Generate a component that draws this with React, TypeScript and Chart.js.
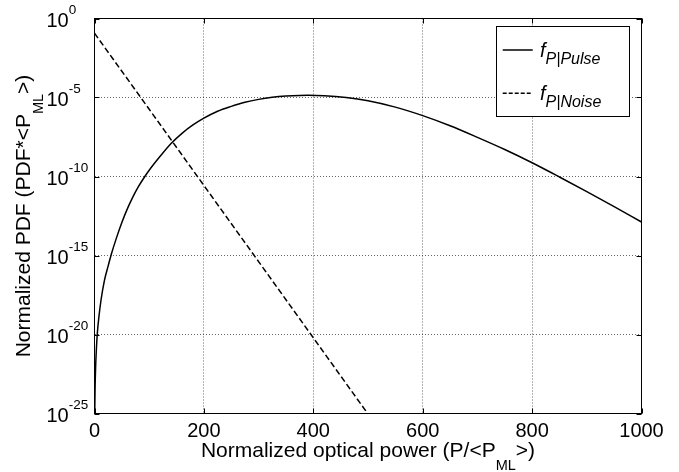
import React, { useEffect, useRef } from "react";
import { Chart, registerables } from "chart.js";

Chart.register(...registerables);

// ---- data ----
const pulseP = [
  0.2, 0.4, 1, 2, 3.5, 5, 8, 12, 18, 25, 31, 40, 50, 60, 70, 80, 92, 100, 120,
  140, 160, 180, 200, 225, 250, 275, 300, 325, 350, 375, 390, 420, 460, 500,
  550, 600, 650, 700, 750, 800, 850, 900, 950, 1000,
];
const pulsePDF = [
  1.6e-26, 1.0e-25, 3.2e-24, 7.9e-23, 1.26e-21, 1.0e-20, 1.26e-19, 1.58e-18,
  2.5e-17, 2.2e-16, 1.29e-15, 1.26e-14, 1.23e-13, 8.9e-13, 5.0e-12, 2.2e-11,
  1.0e-10, 2.5e-10, 1.9e-9, 1.23e-8, 5.4e-8, 1.82e-7, 4.9e-7, 1.35e-6, 2.75e-6,
  5.0e-6, 7.6e-6, 1.02e-5, 1.23e-5, 1.36e-5, 1.38e-5, 1.3e-5, 1.0e-5, 6.2e-6,
  2.45e-6, 7.1e-7, 1.62e-7, 3.0e-8, 5.1e-9, 7.4e-10, 9.3e-11, 1.1e-11,
  1.23e-12, 1.32e-13,
];
const noiseP = [0, 100, 200, 300, 400, 500];
const noisePDF = [1.17e-1, 1.8e-6, 2.7e-11, 4.1e-16, 6.2e-21, 9.3e-26];

const xTicks = [0, 200, 400, 600, 800, 1000];
const yTickExponents = [-25, -20, -15, -10, -5, 0];
const xTitleParts = ["Normalized optical power (P/<P", "ML", ">)"];
const yTitleParts = ["Normalized PDF (PDF*<P", "ML", ">)"];
const legendItems = [
  { base: "f", sub: "P|Pulse", dash: [] as number[] },
  { base: "f", sub: "P|Noise", dash: [4, 2] },
];

const FONT = '"Liberation Sans", Arial, Helvetica, sans-serif';

function drawSubText(
  ctx: CanvasRenderingContext2D,
  parts: string[],
  cx: number,
  baseline: number
) {
  const big = `21px ${FONT}`;
  const small = `14.5px ${FONT}`;
  ctx.font = big;
  const w1 = ctx.measureText(parts[0]).width;
  const w3 = ctx.measureText(parts[2]).width;
  ctx.font = small;
  const w2 = ctx.measureText(parts[1]).width;
  let x = cx - (w1 + w2 + w3) / 2;
  ctx.textAlign = "left";
  ctx.textBaseline = "alphabetic";
  ctx.font = big;
  ctx.fillText(parts[0], x, baseline);
  x += w1;
  ctx.font = small;
  ctx.fillText(parts[1], x, baseline + 13);
  x += w2;
  ctx.font = big;
  ctx.fillText(parts[2], x, baseline);
}

const decorPlugin = {
  id: "matlabDecor",
  afterDraw(chart: any) {
    const { ctx, chartArea: a, scales } = chart;
    const xs = scales.x;
    const ys = scales.y;
    ctx.save();
    ctx.setLineDash([]);
    ctx.strokeStyle = "#000";
    ctx.fillStyle = "#000";
    ctx.lineWidth = 1;

    // axes box
    ctx.strokeRect(a.left, a.top, a.right - a.left, a.bottom - a.top);

    // inward ticks on all sides
    ctx.beginPath();
    for (const v of xTicks) {
      const px = Math.round(xs.getPixelForValue(v)) + 0.5;
      ctx.moveTo(px, a.bottom);
      ctx.lineTo(px, a.bottom - 5);
      ctx.moveTo(px, a.top);
      ctx.lineTo(px, a.top + 5);
    }
    for (const e of yTickExponents) {
      const py = Math.round(ys.getPixelForValue(Math.pow(10, e))) + 0.5;
      ctx.moveTo(a.left, py);
      ctx.lineTo(a.left + 5, py);
      ctx.moveTo(a.right, py);
      ctx.lineTo(a.right - 5, py);
    }
    ctx.stroke();

    // x tick labels
    ctx.font = `20px ${FONT}`;
    ctx.textAlign = "center";
    ctx.textBaseline = "alphabetic";
    for (const v of xTicks) {
      ctx.fillText(String(v), xs.getPixelForValue(v), a.bottom + 23);
    }

    // y tick labels 10^e
    for (const e of yTickExponents) {
      const py = ys.getPixelForValue(Math.pow(10, e));
      ctx.textAlign = "left";
      ctx.font = `20px ${FONT}`;
      const w = ctx.measureText("10").width;
      ctx.fillText("10", 46.5, py + 8);
      ctx.font = `13.5px ${FONT}`;
      ctx.fillText(String(e), 46.5 + w, py - 4.3);
    }

    // x title
    drawSubText(ctx, xTitleParts, (a.left + a.right) / 2, a.bottom + 43.5);

    // y title
    ctx.save();
    ctx.translate(30, (a.top + a.bottom) / 2);
    ctx.rotate(-Math.PI / 2);
    drawSubText(ctx, yTitleParts, 0, 0);
    ctx.restore();

    // legend
    const lx = 496.5,
      ly = 26.5,
      lw = 133,
      lh = 90;
    ctx.fillStyle = "#fff";
    ctx.fillRect(lx, ly, lw, lh);
    ctx.strokeStyle = "#000";
    ctx.lineWidth = 1;
    ctx.strokeRect(lx, ly, lw, lh);
    const rows = [50, 93.3];
    legendItems.forEach((it, i) => {
      const y = rows[i];
      ctx.beginPath();
      ctx.setLineDash(it.dash);
      ctx.lineWidth = 1.5;
      ctx.moveTo(502.7, y);
      ctx.lineTo(532.7, y);
      ctx.stroke();
      ctx.setLineDash([]);
      ctx.fillStyle = "#000";
      ctx.textAlign = "left";
      ctx.font = `italic 20px ${FONT}`;
      ctx.fillText(it.base, 540, y + 6.7);
      const fw = ctx.measureText(it.base).width;
      ctx.font = `italic 16px ${FONT}`;
      ctx.fillText(it.sub, 540 + fw, y + 14);
    });

    ctx.restore();
  },
};

export default function App() {
  const ref = useRef<HTMLCanvasElement | null>(null);

  useEffect(() => {
    if (!ref.current) return;
    const gridCommon = {
      color: "rgba(0,0,0,0.6)",
      lineWidth: 1,
      drawTicks: false,
    };
    const chart = new Chart(ref.current, {
      type: "line",
      data: {
        datasets: [
          {
            label: "f P|Pulse",
            data: pulseP.map((x, i) => ({ x, y: pulsePDF[i] })),
            borderColor: "#000",
            borderWidth: 1.5,
            pointRadius: 0,
            cubicInterpolationMode: "monotone",
            fill: false,
          },
          {
            label: "f P|Noise",
            data: noiseP.map((x, i) => ({ x, y: noisePDF[i] })),
            borderColor: "#000",
            borderWidth: 1.5,
            borderDash: [6, 3],
            pointRadius: 0,
            fill: false,
          },
        ],
      },
      options: {
        animation: false,
        responsive: false,
        events: [],
        layout: { padding: { top: 18.5, right: 37.5, left: 0, bottom: 0 } },
        plugins: {
          legend: { display: false },
          tooltip: { enabled: false },
        },
        scales: {
          x: {
            type: "linear",
            min: 0,
            max: 1000,
            afterBuildTicks: (s: any) => {
              s.ticks = xTicks.map((v) => ({ value: v }));
            },
            afterFit: (s: any) => {
              s.height = 58.5;
            },
            ticks: { display: false },
            border: { display: false, dash: [1, 2] },
            grid: gridCommon,
          },
          y: {
            type: "logarithmic",
            min: 1e-25,
            max: 1,
            afterBuildTicks: (s: any) => {
              s.ticks = yTickExponents.map((e) => ({ value: Math.pow(10, e) }));
            },
            afterFit: (s: any) => {
              s.width = 94.5;
            },
            ticks: { display: false },
            border: { display: false, dash: [1, 2] },
            grid: gridCommon,
          },
        },
      } as any,
      plugins: [decorPlugin],
    });
    return () => chart.destroy();
  }, []);

  return (
    <div style={{ position: "fixed", left: 0, top: 0, width: 679, height: 472, background: "#fff" }}>
      <canvas ref={ref} width={679} height={472} />
    </div>
  );
}
